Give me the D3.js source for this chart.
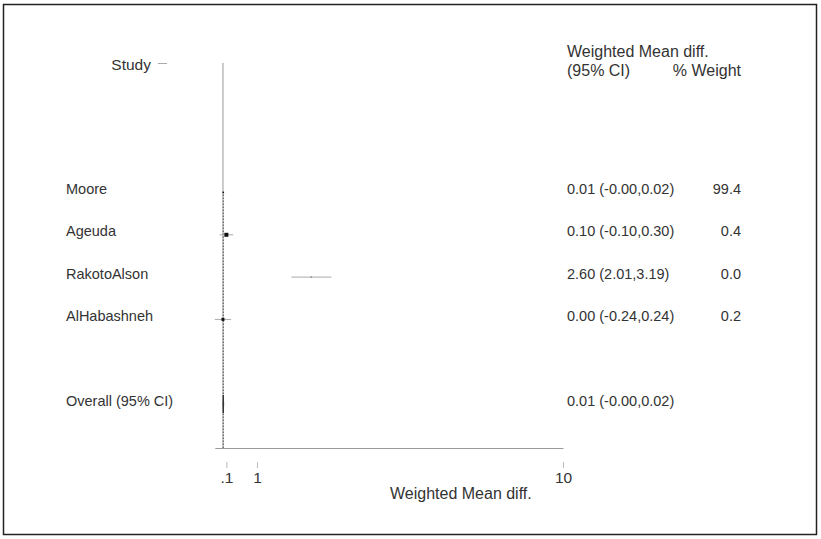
<!DOCTYPE html>
<html>
<head>
<meta charset="utf-8">
<script src="https://cdn.jsdelivr.net/npm/d3@7"></script>
<style>
  body { margin: 0; background: #fff; }
  svg { display: block; font-family: "Liberation Sans", Arial, Helvetica, sans-serif; }
</style>
</head>
<body>
<div id="chart"></div>
<script>
// study rows, top to bottom
const studies = ['Moore', 'Ageuda', 'RakotoAlson', 'AlHabashneh'];
const estimates = [0.01, 0.10, 2.60, 0.00];
const lower = [-0.00, -0.10, 2.01, -0.24];
const upper = [0.02, 0.30, 3.19, 0.24];
const weights = ['99.4', '0.4', '0.0', '0.2'];

// pooled result
const overallLabel = 'Overall (95% CI)';
const overall = { est: 0.01, lo: -0.00, hi: 0.02 };

const tickValues = [0.1, 1, 10];
const tickLabels = ['.1', '1', '10'];

const width = 821;
const height = 539;
const TEXT = '#333';
const GREY = '#999';

function fmt(v) {
  return v.toFixed(2);
}

function ciText(e, l, u) {
  // Stata writes -0.00 for a lower bound that rounds to zero
  const lo = (l <= 0 && fmt(l) === '0.00') ? '-0.00' : fmt(l);
  return fmt(e) + ' (' + lo + ',' + fmt(u) + ')';
}

const svg = d3.select('#chart')
  .append('svg')
    .attr('width', width)
    .attr('height', height);

// frame
svg.append('rect')
    .attr('x', 3.5)
    .attr('y', 4.5)
    .attr('width', width - 8)
    .attr('height', height - 9)
    .attr('fill', 'none')
    .attr('stroke', '#222')
    .attr('stroke-width', 1.5);

const x = d3.scaleLinear()
  .domain([d3.min(lower), 10])
  .range([214.8, 563]);

// row index -> y (study rows 0..3, overall at 5, header at -3)
const y = d3.scaleLinear()
  .domain([0, 5])
  .range([192.5, 404]);

const axisY = 448;

// null line
svg.append('line')
    .attr('x1', x(0)).attr('x2', x(0))
    .attr('y1', 63).attr('y2', axisY)
    .attr('stroke', GREY)
    .attr('stroke-width', 1);

// overall effect line
svg.append('line')
    .attr('x1', x(overall.est)).attr('x2', x(overall.est))
    .attr('y1', y(0) - 1).attr('y2', axisY)
    .attr('stroke', '#555')
    .attr('stroke-width', 1)
    .attr('stroke-dasharray', '1.5,1.5');

// axis line
svg.append('g')
    .attr('transform', 'translate(0,' + axisY + ')')
    .call(d3.axisBottom(x).tickValues([]).tickSizeOuter(0))
    .call(g => g.select('.domain').attr('stroke', GREY));

// ticks, set off below the axis line
svg.append('g')
    .attr('transform', 'translate(0,' + (axisY + 14) + ')')
    .call(d3.axisBottom(x)
      .tickValues(tickValues)
      .tickFormat((d, i) => tickLabels[i])
      .tickSize(6)
      .tickPadding(4))
    .call(g => g.select('.domain').remove())
    .call(g => g.selectAll('.tick line').attr('stroke', '#bbb'))
    .call(g => g.selectAll('.tick text')
      .attr('fill', TEXT)
      .attr('font-size', 15.5)
      .attr('font-family', '"Liberation Sans", Arial, sans-serif'));

// axis title
svg.append('text')
    .attr('x', 390)
    .attr('y', 499)
    .attr('fill', TEXT)
    .attr('font-size', 16)
    .text('Weighted Mean diff.');

// headers
svg.append('text')
    .attr('x', 151)
    .attr('y', 70)
    .attr('text-anchor', 'end')
    .attr('fill', TEXT)
    .attr('font-size', 15.5)
    .text('Study');

svg.append('line')
    .attr('x1', 158).attr('x2', 167)
    .attr('y1', 63.5).attr('y2', 63.5)
    .attr('stroke', '#aaa');

svg.append('text')
    .attr('x', 567)
    .attr('y', 57)
    .attr('fill', TEXT)
    .attr('font-size', 16)
    .text('Weighted Mean diff.');

svg.append('text')
    .attr('x', 567)
    .attr('y', 75.5)
    .attr('fill', TEXT)
    .attr('font-size', 16)
    .text('(95% CI)');

svg.append('text')
    .attr('x', 741)
    .attr('y', 75.5)
    .attr('text-anchor', 'end')
    .attr('fill', TEXT)
    .attr('font-size', 16)
    .text('% Weight');

// study rows
const rows = svg.append('g')
  .selectAll('g')
  .data(studies)
  .enter()
  .append('g');

rows.append('text')
    .attr('x', 66)
    .attr('y', (d, i) => y(i) + 1.5)
    .attr('fill', TEXT)
    .attr('font-size', 14.5)
    .text(d => d);

rows.append('text')
    .attr('x', 567)
    .attr('y', (d, i) => y(i) + 1.5)
    .attr('fill', TEXT)
    .attr('font-size', 14.5)
    .text((d, i) => ciText(estimates[i], lower[i], upper[i]));

rows.append('text')
    .attr('x', 741)
    .attr('y', (d, i) => y(i) + 1.5)
    .attr('text-anchor', 'end')
    .attr('fill', TEXT)
    .attr('font-size', 14.5)
    .text((d, i) => weights[i]);

// confidence intervals
rows.append('line')
    .attr('x1', (d, i) => x(lower[i]))
    .attr('x2', (d, i) => x(upper[i]))
    .attr('y1', (d, i) => y(i))
    .attr('y2', (d, i) => y(i))
    .attr('stroke', '#aaa')
    .attr('stroke-width', 1);

// point estimates (boxes stay small, as in the source)
const boxSize = i => (i === 1 ? 4 : i === 3 ? 3 : 1.5);
rows.append('rect')
    .attr('x', (d, i) => x(estimates[i]) - boxSize(i) / 2)
    .attr('y', (d, i) => y(i) - boxSize(i) / 2)
    .attr('width', (d, i) => boxSize(i))
    .attr('height', (d, i) => boxSize(i))
    .attr('fill', (d, i) => (i === 2 ? '#888' : '#111'));

// overall row
svg.append('text')
    .attr('x', 66)
    .attr('y', y(5) + 1.5)
    .attr('fill', TEXT)
    .attr('font-size', 14.5)
    .text(overallLabel);

svg.append('text')
    .attr('x', 567)
    .attr('y', y(5) + 1.5)
    .attr('fill', TEXT)
    .attr('font-size', 14.5)
    .text(ciText(overall.est, overall.lo, overall.hi));

const dh = 9;
svg.append('path')
    .attr('d', 'M' + x(overall.lo) + ',' + y(5) +
               'L' + x(overall.est) + ',' + (y(5) - dh) +
               'L' + x(overall.hi) + ',' + y(5) +
               'L' + x(overall.est) + ',' + (y(5) + dh) + 'Z')
    .attr('fill', '#333')
    .attr('stroke', '#333')
    .attr('stroke-width', 1);
</script>
</body>
</html>
